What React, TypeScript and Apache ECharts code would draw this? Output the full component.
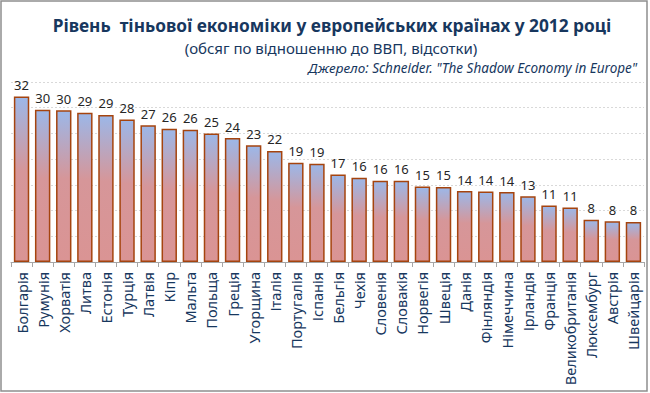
import React, { useEffect, useRef } from "react";
import * as echarts from "echarts";

const countries: string[] = [
  "Болгарія", "Румунія", "Хорватія", "Литва", "Естонія", "Турція", "Латвія", "Кіпр",
  "Мальта", "Польща", "Греція", "Угорщина", "Італія", "Португалія", "Іспанія", "Бельгія",
  "Чехія", "Словенія", "Словакія", "Норвегія", "Швеція", "Данія", "Фінляндія", "Німеччина",
  "Ірландія", "Франція", "Великобританія", "Люксембург", "Австрія", "Швейцарія",
];

const shadowShare: number[] = [
  32.2, 29.6, 29.5, 29.0, 28.6, 27.7, 26.6, 25.9,
  25.7, 25.0, 24.1, 22.7, 21.6, 19.3, 19.1, 17.0,
  16.4, 15.8, 15.8, 14.7, 14.6, 13.8, 13.7, 13.6,
  12.8, 11.0, 10.6, 8.2, 7.9, 7.8,
];

const titleText = "Рівень  тіньової економіки у европейських країнах у 2012 році";
const subtitleText = "(обсяг по відношенню до ВВП, відсотки)";
const sourceText = "Джерело: Schneider. \"The Shadow Economy in Europe\"";

const NAVY = "#17375E";
const FONT = "'Noto Sans', 'DejaVu Sans', sans-serif";

export default function App() {
  const ref = useRef<HTMLDivElement>(null);

  useEffect(() => {
    if (!ref.current) return;
    const chart = echarts.init(ref.current, undefined, { renderer: "svg" });
    chart.setOption({
      animation: false,
      backgroundColor: "#FFFFFF",
      textStyle: { fontFamily: FONT },
      grid: { left: 11, right: 6, top: 82, bottom: 131 },
      xAxis: {
        type: "category",
        data: countries,
        axisLine: { lineStyle: { color: "#A6A6A6", width: 1 } },
        axisTick: { show: true, length: 5, lineStyle: { color: "#A6A6A6" } },
        axisLabel: {
          rotate: 90,
          interval: 0,
          margin: 10,
          color: NAVY,
          fontSize: 14.5,
          fontFamily: FONT,
        },
      },
      yAxis: {
        type: "value",
        min: 0,
        max: 35,
        interval: 5,
        axisLabel: { show: false },
        axisLine: { show: false },
        axisTick: { show: false },
        splitLine: { lineStyle: { color: "#D9D9D9", type: [2, 2], width: 1 } },
      },
      series: [
        {
          type: "bar",
          data: shadowShare,
          barCategoryGap: "27%",
          itemStyle: {
            color: new echarts.graphic.LinearGradient(0, 0, 0, 1, [
              { offset: 0, color: "#9CB7E8" },
              { offset: 0.45, color: "#D69699" },
              { offset: 1, color: "#DA9494" },
            ]),
            borderColor: "#A5440F",
            borderWidth: 1.5,
          },
          label: {
            show: true,
            position: "top",
            distance: 5,
            color: "#262626",
            fontSize: 13,
            fontFamily: FONT,
            formatter: (p: any) => String(Math.round(p.value)),
          },
        },
      ],
      graphic: [
        {
          type: "rect",
          silent: true,
          shape: { x: 1, y: 1, width: 646, height: 390 },
          style: { fill: "none", stroke: "#8E8E8E", lineWidth: 1.5 },
        },
        {
          type: "text",
          x: 332,
          y: 25,
          style: {
            text: titleText,
            fill: NAVY,
            fontSize: 17.3,
            fontWeight: "bold",
            fontFamily: FONT,
            align: "center",
            verticalAlign: "middle",
          },
        },
        {
          type: "text",
          x: 331,
          y: 48,
          style: {
            text: subtitleText,
            fill: NAVY,
            fontSize: 15,
            fontFamily: FONT,
            align: "center",
            verticalAlign: "middle",
          },
        },
        {
          type: "text",
          x: 637,
          y: 68,
          style: {
            text: sourceText,
            fill: NAVY,
            fontSize: 13.5,
            fontStyle: "italic",
            fontFamily: FONT,
            align: "right",
            verticalAlign: "middle",
          },
        },
      ],
    });
    return () => chart.dispose();
  }, []);

  return (
    <div
      ref={ref}
      style={{ position: "absolute", left: 0, top: 0, width: 650, height: 393 }}
    />
  );
}
